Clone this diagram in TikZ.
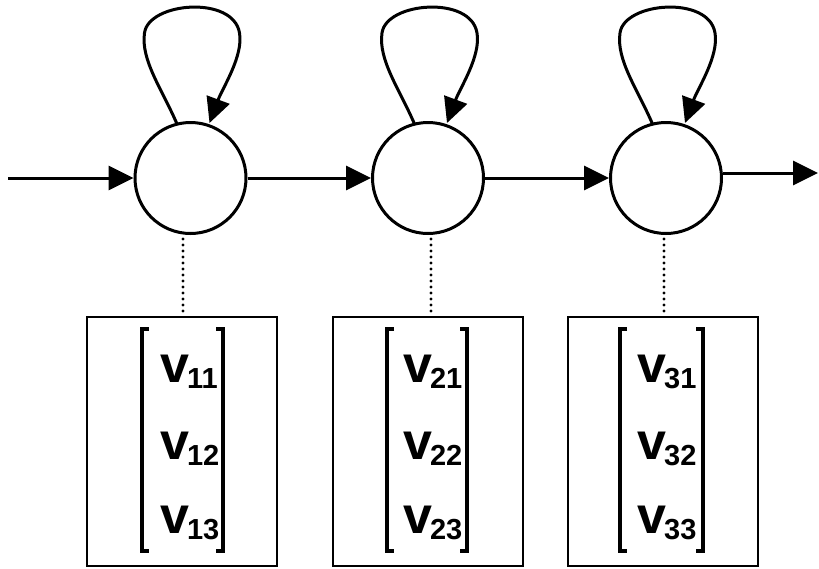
\documentclass[tikz,border=0pt]{standalone}
\usepackage{fontspec}
\setmainfont{Liberation Sans}
\usetikzlibrary{arrows.meta,calc}
\tikzset{
  state/.style={circle,draw,line width=3pt,minimum size=111pt,inner sep=0pt},
  vbox/.style={draw,line width=2.4pt,minimum width=190pt,minimum height=249pt,inner sep=0pt},
  conn/.style={line width=3pt,-{Triangle[length=25pt,width=24pt]}},
  link/.style={line width=3.2pt,dash pattern=on 0pt off 6pt,line cap=round},
  brk/.style={line width=4pt},
  ventry/.style={anchor=base west,inner sep=0pt,font=\bfseries}
}
\newcommand{\ventrytext}[1]{{\fontsize{52}{52}\selectfont v}\kern-2pt\raisebox{-6.5pt}{\fontsize{29}{29}\selectfont #1}}
\begin{document}
\begin{tikzpicture}[x=1pt,y=-1pt]
\useasboundingbox (0,0) rectangle (819,568);
% states
\node[state] (c1) at (190.5,178) {};
\node[state] (c2) at (428,178) {};
\node[state] (c3) at (666,178) {};
% boxes
\node[vbox] (b1) at (182,441.5) {};
\node[vbox] (b2) at (428,441.5) {};
\node[vbox] (b3) at (663,441.5) {};
% free ends
\coordinate (in) at (8,178);
\coordinate (out) at (818,173);
% horizontal connectors
\draw[conn] (in) -- (c1.west);
\draw[conn] (c1.east) -- (c2.west);
\draw[conn] (c2.east) -- (c3.west);
\draw[conn] ($(c3.east)+(0,-5)$) -- (out);
% self loops
\foreach \i in {1,2,3}{
  \draw[conn] ($(c\i)+(-13.5,-54)$) .. controls ($(c\i)+(-28,-88)$) and ($(c\i)+(-50,-118)$) .. ($(c\i)+(-46,-145)$)
     .. controls ($(c\i)+(-42,-176)$) and ($(c\i)+(43,-183)$) .. ($(c\i)+(49,-145)$)
     .. controls ($(c\i)+(53,-122)$) and ($(c\i)+(32,-90)$) .. ($(c\i)+(19,-55)$);
}
% dotted links
\draw[link] ($(c1.south)+(-7.5,4)$) -- ($(b1.north)+(1,-2)$);
\draw[link] ($(c2.south)+(3,4)$) -- ($(b2.north)+(3,-2)$);
\draw[link] ($(c3.south)+(-2,4)$) -- ($(b3.north)+(1,-2)$);
% brackets and entries
\foreach \i/\l/\r/\t in {1/142/223/160, 2/387/467/403, 3/620/703/637}{
  \draw[brk] (\l+7,329) -- (\l,329) -- (\l,551) -- (\l+7,551);
  \draw[brk] (\r-7,329) -- (\r,329) -- (\r,551) -- (\r-7,551);
  \node[ventry] (v\i1) at (\t,382) {\ventrytext{\i1}};
  \node[ventry] (v\i2) at (\t,459) {\ventrytext{\i2}};
  \node[ventry] (v\i3) at (\t,533) {\ventrytext{\i3}};
}
\end{tikzpicture}
\end{document}
